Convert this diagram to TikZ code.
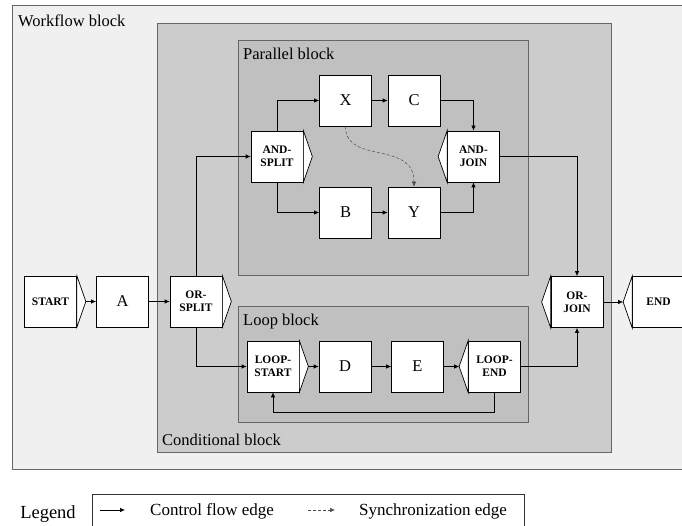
\documentclass[tikz,border=0pt]{standalone}
\usepackage{fontspec}
\setmainfont{Liberation Serif}
\usetikzlibrary{arrows.meta}
\definecolor{wfgray}{RGB}{240,240,240}
\definecolor{condgray}{RGB}{204,204,204}
\definecolor{subgray}{RGB}{192,192,192}

\begin{document}
\begin{tikzpicture}[x=1pt,y=-1pt]
            \tikzstyle{block}=[draw=black!60, line width=1pt]
            \tikzstyle{blocklabel}=[anchor=base west, inner sep=0pt, font=\fontsize{16.5}{19}\selectfont]
            \tikzstyle{task}=[rectangle, draw=black, fill=white, line width=0.7pt, minimum width=52pt, minimum height=51pt, inner sep=0pt, font=\fontsize{16.5}{19}\selectfont]
            \tikzstyle{ctrl}=[task, align=center, font=\fontsize{11.5}{13}\selectfont\bfseries]
            \tikzstyle{chevron}=[draw=black, fill=white, line width=0.7pt, line join=miter]
            \tikzstyle{connect}=[line width=0.7pt, -{Latex[length=5pt,width=4.5pt]}]
            \tikzstyle{sync}=[line width=0.5pt, black!70, densely dashed, -{Latex[length=5pt,width=4.5pt]}]
            \clip (0,0) rectangle (682,526);
            % blocks
            \draw[block, fill=wfgray] (12,6) rectangle (700,469);
            \draw[block, fill=condgray] (157,24) rectangle (611,452);
            \draw[block, fill=subgray] (238,41) rectangle (528,276);
            \draw[block, fill=subgray] (238,307) rectangle (528,422);
            \node[blocklabel] (wflabel) at (18,27) {Workflow block};
            \node[blocklabel] (condlabel) at (162,445) {Conditional block};
            \node[blocklabel] (parlabel) at (243,60) {Parallel block};
            \node[blocklabel] (looplabel) at (243,326) {Loop block};
            % nodes
            \node[ctrl] (start) at (50.5,301.5) {START};
            \node[task] (A) at (122.5,301.5) {A};
            \node[ctrl] (orsplit) at (196,301.5) {OR-\\SPLIT};
            \node[ctrl] (andsplit) at (277,156.5) {AND-\\SPLIT};
            \node[task] (X) at (345.5,100.5) {X};
            \node[task] (C) at (414,100.5) {C};
            \node[task] (B) at (345.5,212.5) {B};
            \node[task] (Y) at (414,212.5) {Y};
            \node[ctrl] (andjoin) at (473.5,156.5) {AND-\\JOIN};
            \node[ctrl] (loopstart) at (273,366.5) {LOOP-\\START};
            \node[task] (D) at (345,366.5) {D};
            \node[task] (E) at (417.5,366.5) {E};
            \node[ctrl] (loopend) at (494.5,366.5) {LOOP-\\END};
            \node[ctrl] (orjoin) at (577,302) {OR-\\JOIN};
            \node[ctrl] (stop) at (658.5,302) {END};
            % split / join chevrons
            \foreach \n in {start,orsplit,andsplit,loopstart}
                \draw[chevron] (\n.north east) -- ([xshift=9pt]\n.east) -- (\n.south east) -- cycle;
            \foreach \n in {andjoin,loopend,orjoin,stop}
                \draw[chevron] (\n.north west) -- ([xshift=-9pt]\n.west) -- (\n.south west) -- cycle;
            % edges
            \draw[connect] ([xshift=9pt]start.east) -- (A);
            \draw[connect] (A) -- (orsplit);
            \draw[connect] (orsplit.north) |- (andsplit);
            \draw[connect] (orsplit.south) |- (loopstart);
            \draw[connect] (andsplit.north) |- (X);
            \draw[connect] (andsplit.south) |- (B);
            \draw[connect] (X) -- (C);
            \draw[connect] (B) -- (Y);
            \draw[connect] (C) -| (andjoin);
            \draw[connect] (Y) -| (andjoin);
            \draw[sync] (X.south) .. controls (345.5,165) and (414,140) .. (Y.north);
            \draw[connect] (andjoin) -| (orjoin);
            \draw[connect] ([xshift=9pt]loopstart.east) -- (D);
            \draw[connect] (D) -- (E);
            \draw[connect] (E) -- ([xshift=-9pt]loopend.west);
            \draw[connect] (loopend.south) -- ++(0,20) -| (loopstart.south);
            \draw[connect] (loopend) -| (orjoin);
            \draw[connect] (orjoin) -- ([xshift=-9pt]stop.west);
            % legend
            \node[anchor=base, inner sep=0pt, font=\fontsize{18.5}{21}\selectfont] (legend) at (48,518) {Legend};
            \draw[line width=0.7pt, draw=black!80] (92,494) rectangle (524,540);
            \coordinate (cfa) at (100,510);
            \coordinate (cfb) at (125,510);
            \coordinate (sya) at (308,510);
            \coordinate (syb) at (335,510);
            \draw[connect] (cfa) -- (cfb);
            \draw[sync] (sya) -- (syb);
            \node[anchor=base west, inner sep=0pt, font=\fontsize{17}{20}\selectfont] (cflabel) at (150,515) {Control flow edge};
            \node[anchor=base west, inner sep=0pt, font=\fontsize{17}{20}\selectfont] (sylabel) at (359,515) {Synchronization edge};
\end{tikzpicture}
\end{document}
